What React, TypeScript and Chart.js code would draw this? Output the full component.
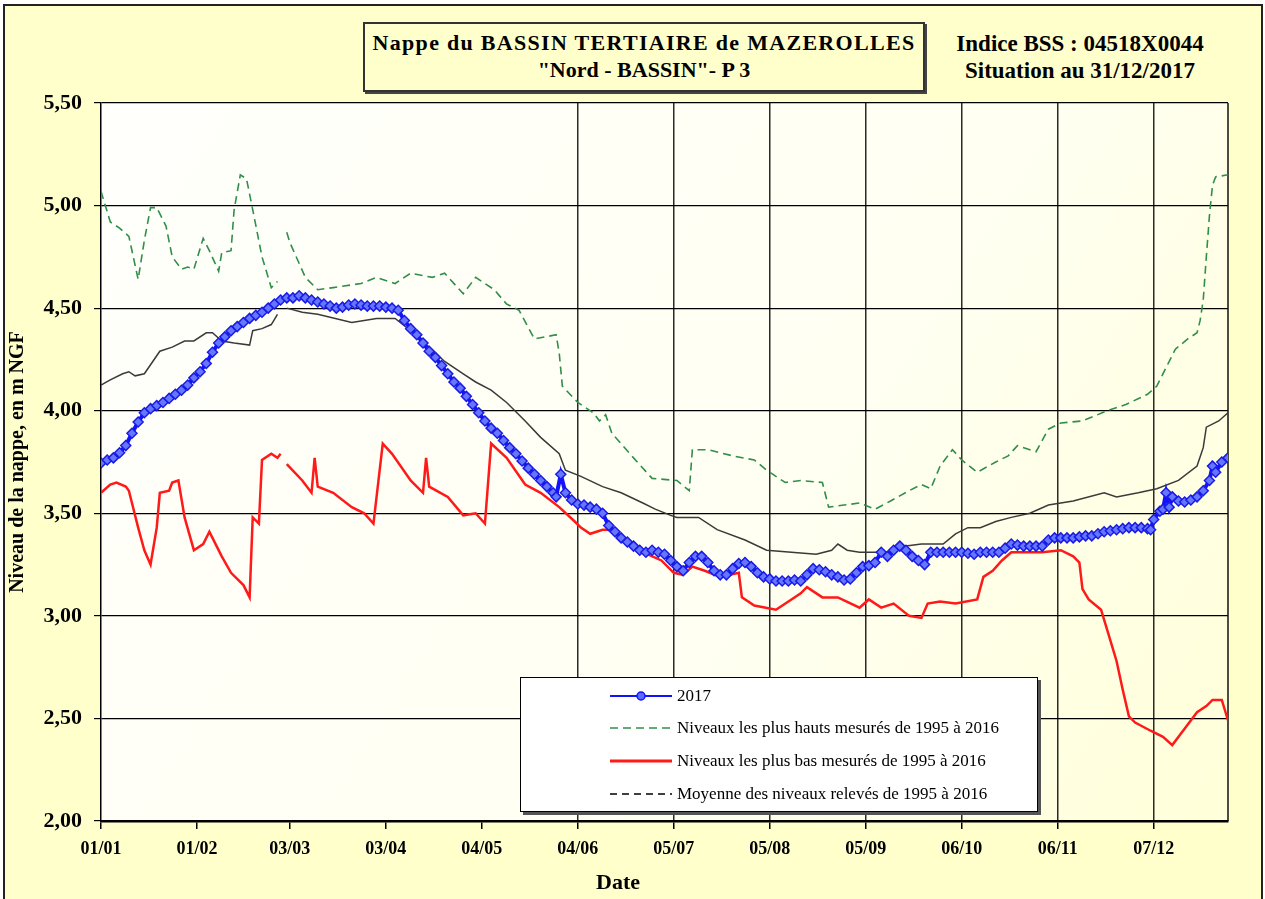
import React, { useEffect, useRef } from "react";
import { Chart, registerables } from "chart.js";
Chart.register(...registerables);

// x tick positions (day of year, 0 = 01/01) and their labels
const tickDays = [0, 31, 61, 92, 123, 154, 185, 216, 247, 278, 309, 340];
const tickLabels = ["01/01", "01/02", "03/03", "03/04", "04/05", "04/06", "05/07", "05/08", "05/09", "06/10", "06/11", "07/12"];

// 2017 levels
const days2017 = [0, 2, 4, 6, 8, 10, 12, 14, 16, 18, 20, 22, 24, 26, 28, 30, 32, 34, 36, 38, 40, 42, 44, 46, 48, 50, 52, 54, 56, 58, 60, 62, 64, 66, 68, 70, 72, 74, 76, 78, 80, 82, 84, 86, 88, 90, 92, 94, 96, 98, 100, 102, 104, 106, 108, 110, 112, 114, 116, 118, 120, 122, 124, 126, 128, 130, 132, 134, 136, 138, 140, 142, 144, 146, 147, 148.5, 150, 152, 154, 156, 158, 160, 162, 164, 166, 168, 170, 172, 174, 176, 178, 180, 182, 184, 186, 188, 190, 192, 194, 196, 198, 200, 202, 204, 206, 208, 210, 212, 214, 216, 218, 220, 222, 224, 226, 228, 230, 232, 234, 236, 238, 240, 242, 244, 246, 248, 250, 252, 254, 256, 258, 260, 262, 264, 266, 268, 270, 272, 274, 276, 278, 280, 282, 284, 286, 288, 290, 292, 294, 296, 298, 300, 302, 304, 306, 308, 310, 312, 314, 316, 318, 320, 322, 324, 326, 328, 330, 332, 334, 336, 338, 339, 340, 342, 343, 344, 345, 346, 348, 350, 352, 354, 356, 358, 359, 360, 362, 364];
const values2017 = [3.745, 3.76, 3.77, 3.795, 3.83, 3.89, 3.945, 3.99, 4.01, 4.025, 4.04, 4.06, 4.08, 4.1, 4.125, 4.16, 4.19, 4.23, 4.285, 4.33, 4.36, 4.39, 4.41, 4.43, 4.45, 4.465, 4.48, 4.5, 4.52, 4.54, 4.55, 4.55, 4.56, 4.55, 4.54, 4.53, 4.52, 4.51, 4.5, 4.505, 4.515, 4.52, 4.515, 4.51, 4.51, 4.51, 4.505, 4.5, 4.49, 4.44, 4.4, 4.37, 4.33, 4.29, 4.26, 4.22, 4.18, 4.14, 4.11, 4.07, 4.03, 3.99, 3.95, 3.915, 3.89, 3.855, 3.82, 3.79, 3.755, 3.72, 3.69, 3.66, 3.63, 3.6, 3.58, 3.69, 3.6, 3.565, 3.545, 3.54, 3.53, 3.52, 3.5, 3.44, 3.41, 3.38, 3.36, 3.34, 3.32, 3.31, 3.32, 3.31, 3.3, 3.27, 3.24, 3.22, 3.26, 3.29, 3.29, 3.26, 3.22, 3.2, 3.2, 3.23, 3.255, 3.26, 3.24, 3.21, 3.19, 3.18, 3.17, 3.17, 3.17, 3.175, 3.17, 3.2, 3.23, 3.225, 3.215, 3.2, 3.19, 3.175, 3.18, 3.21, 3.24, 3.245, 3.26, 3.31, 3.29, 3.32, 3.34, 3.32, 3.29, 3.27, 3.25, 3.31, 3.31, 3.31, 3.31, 3.31, 3.31, 3.305, 3.3, 3.31, 3.31, 3.31, 3.31, 3.33, 3.35, 3.345, 3.34, 3.34, 3.34, 3.34, 3.37, 3.38, 3.38, 3.38, 3.38, 3.385, 3.39, 3.39, 3.4, 3.41, 3.415, 3.42, 3.425, 3.43, 3.43, 3.43, 3.425, 3.42, 3.47, 3.51, 3.52, 3.6, 3.53, 3.58, 3.56, 3.555, 3.565, 3.58, 3.61, 3.66, 3.73, 3.7, 3.75, 3.77];

// highest levels 1995-2016
const daysHigh = [0, 3, 6, 9, 12, 14, 16, 18, 21, 23, 26, 28, 30, 33, 35, 38, 39, 42, 43, 45, 47, 49, 52, 55, 57, 58.5, 60, 61, 66, 70, 75, 84, 89, 95, 100, 107, 111, 117, 121, 127, 131, 135, 140, 147, 148, 149, 154, 159, 161, 163, 165, 172, 178, 186, 190, 191, 196, 204, 211, 215, 221, 226, 233, 235, 240, 245, 250, 255, 261, 265, 268, 271, 275, 278, 283, 289, 293, 296, 302, 306, 310, 317, 325, 331, 338, 341, 344, 347, 351, 354, 355, 356, 357, 358, 359, 360, 364];
const valuesHigh = [5.07, 4.92, 4.89, 4.85, 4.64, 4.83, 4.99, 4.99, 4.9, 4.75, 4.69, 4.7, 4.69, 4.84, 4.78, 4.68, 4.77, 4.78, 4.98, 5.15, 5.13, 4.98, 4.75, 4.6, 4.63, null, 4.87, 4.82, 4.65, 4.59, 4.6, 4.62, 4.65, 4.62, 4.67, 4.65, 4.67, 4.57, 4.65, 4.59, 4.52, 4.49, 4.35, 4.37, 4.28, 4.12, 4.04, 3.99, 3.95, 3.98, 3.89, 3.77, 3.67, 3.66, 3.61, 3.81, 3.81, 3.78, 3.76, 3.71, 3.65, 3.66, 3.65, 3.53, 3.54, 3.55, 3.52, 3.56, 3.61, 3.64, 3.62, 3.73, 3.81, 3.76, 3.7, 3.75, 3.78, 3.83, 3.8, 3.91, 3.94, 3.95, 4.0, 4.03, 4.08, 4.12, 4.21, 4.3, 4.35, 4.38, 4.44, 4.54, 4.75, 4.95, 5.1, 5.14, 5.15];

// lowest levels 1995-2016
const daysLow = [0, 3, 5, 8, 9, 12, 14, 16, 18, 19, 22, 23, 25, 27, 30, 33, 35, 36, 39, 42, 46, 48, 49, 51, 52, 55, 57, 58, 58.5, 60, 65, 68, 69, 70, 75, 81, 85, 88, 91, 94, 100, 104, 105, 106, 112, 117, 121, 124, 126, 131, 137, 142, 148, 153, 155, 158, 162, 164, 169, 175, 181, 185, 188, 191, 195, 200, 206, 207, 211, 218, 223, 226, 228, 233, 238, 245, 248, 252, 256, 261, 265, 267, 271, 276, 283, 285, 288, 291, 294, 297, 304, 310, 314, 316, 317, 319, 323, 325, 328, 330, 332, 334, 339, 343, 346, 349, 354, 357, 359, 362, 364];
const valuesLow = [3.6, 3.64, 3.65, 3.63, 3.61, 3.43, 3.32, 3.25, 3.43, 3.6, 3.61, 3.65, 3.66, 3.48, 3.32, 3.35, 3.41, 3.38, 3.29, 3.21, 3.15, 3.09, 3.48, 3.45, 3.76, 3.79, 3.77, 3.79, null, 3.74, 3.66, 3.6, 3.77, 3.63, 3.6, 3.53, 3.5, 3.45, 3.84, 3.79, 3.66, 3.6, 3.77, 3.63, 3.58, 3.49, 3.5, 3.45, 3.84, 3.77, 3.64, 3.6, 3.53, 3.46, 3.43, 3.4, 3.42, 3.42, 3.37, 3.31, 3.27, 3.21, 3.2, 3.24, 3.22, 3.19, 3.21, 3.09, 3.05, 3.03, 3.08, 3.11, 3.14, 3.09, 3.09, 3.04, 3.08, 3.04, 3.06, 3.0, 2.99, 3.06, 3.07, 3.06, 3.08, 3.19, 3.22, 3.27, 3.31, 3.31, 3.31, 3.32, 3.29, 3.26, 3.13, 3.08, 3.03, 2.93, 2.78, 2.64, 2.51, 2.48, 2.44, 2.41, 2.37, 2.43, 2.53, 2.56, 2.59, 2.59, 2.49];

// mean levels 1995-2016
const daysMean = [0, 3, 7, 9, 11, 14, 19, 23, 27, 30, 34, 36, 39, 43, 48, 49, 52, 55, 57, 58.5, 60, 65, 70, 81, 89, 95, 100, 106, 111, 117, 121, 126, 131, 137, 142, 148, 150, 155, 162, 168, 175, 179, 184, 186, 193, 199, 208, 215, 223, 231, 236, 238, 241, 245, 254, 260, 265, 272, 276, 280, 284, 289, 294, 300, 306, 314, 324, 328, 335, 341, 348, 354, 356, 357, 361, 364];
const valuesMean = [4.125, 4.15, 4.18, 4.19, 4.17, 4.18, 4.29, 4.31, 4.34, 4.34, 4.38, 4.38, 4.34, 4.33, 4.32, 4.39, 4.4, 4.42, 4.47, null, 4.5, 4.48, 4.47, 4.43, 4.45, 4.45, 4.39, 4.31, 4.24, 4.18, 4.14, 4.1, 4.04, 3.95, 3.87, 3.79, 3.71, 3.68, 3.63, 3.6, 3.55, 3.52, 3.49, 3.48, 3.48, 3.42, 3.37, 3.32, 3.31, 3.3, 3.32, 3.35, 3.32, 3.31, 3.31, 3.34, 3.35, 3.35, 3.4, 3.43, 3.43, 3.46, 3.48, 3.5, 3.54, 3.56, 3.6, 3.58, 3.6, 3.62, 3.66, 3.73, 3.82, 3.92, 3.95, 3.99];

const legendLabels = [
  "2017",
  "Niveaux les plus hauts mesurés de 1995 à 2016",
  "Niveaux les plus bas mesurés de 1995 à 2016",
  "Moyenne des niveaux relevés de 1995 à 2016",
];

const SERIF = '"Liberation Serif", "Times New Roman", serif';
const BLUE = "#1212ff";
const GREEN = "#2f8f4a";
const RED = "#ff1a1a";
const GREY = "#3a3a3a";

const toPoints = (xs: number[], ys: (number | null)[]) => xs.map((x, i) => ({ x, y: ys[i] }));

const plotBg = {
  id: "plotBg",
  beforeDraw(chart: any) {
    const { ctx, chartArea: a } = chart;
    const g = ctx.createLinearGradient(a.left, a.top, a.right, a.bottom);
    g.addColorStop(0, "#fffffc");
    g.addColorStop(0.6, "#fffff2");
    g.addColorStop(1, "#ffffd9");
    ctx.save();
    ctx.fillStyle = g;
    ctx.fillRect(a.left, a.top, a.right - a.left, a.bottom - a.top);
    ctx.restore();
  },
  beforeDatasetsDraw(chart: any) {
    const { ctx, chartArea: a } = chart;
    ctx.save();
    ctx.strokeStyle = "#111";
    ctx.lineWidth = 1.5;
    ctx.beginPath();
    ctx.moveTo(a.right, a.top);
    ctx.lineTo(a.right, a.bottom);
    ctx.stroke();
    ctx.restore();
  },
};

function App() {
  const ref = useRef<HTMLCanvasElement | null>(null);

  useEffect(() => {
    document.body.style.margin = "0";
    document.body.style.background = "#ffffff";
    if (!ref.current) return;
    const chart = new Chart(ref.current, {
      type: "line",
      data: {
        datasets: [
          {
            label: legendLabels[0],
            data: toPoints(days2017, values2017),
            borderColor: BLUE,
            backgroundColor: "#5a6cff",
            borderWidth: 4,
            pointStyle: "rectRot",
            pointRadius: 5,
            pointBorderWidth: 1.5,
            pointBorderColor: "#1a1ae6",
            pointBackgroundColor: "#6677ff",
            tension: 0,
          },
          {
            label: legendLabels[2],
            data: toPoints(daysLow, valuesLow),
            borderColor: RED,
            borderWidth: 2.5,
            pointRadius: 0,
            tension: 0,
            spanGaps: false,
          },
          {
            label: legendLabels[3],
            data: toPoints(daysMean, valuesMean),
            borderColor: GREY,
            borderWidth: 1.5,
            pointRadius: 0,
            tension: 0,
            spanGaps: false,
          },
          {
            label: legendLabels[1],
            data: toPoints(daysHigh, valuesHigh),
            borderColor: GREEN,
            borderWidth: 1.6,
            borderDash: [8, 5],
            pointRadius: 0,
            tension: 0,
            spanGaps: false,
          },
        ],
      },
      options: {
        responsive: false,
        maintainAspectRatio: false,
        devicePixelRatio: 1,
        animation: false,
        layout: { padding: { top: 103, right: 37, left: 0, bottom: 0 } },
        plugins: { legend: { display: false }, tooltip: { enabled: false }, title: { display: false } },
        scales: {
          x: {
            type: "linear",
            min: 0,
            max: 364,
            afterFit: (s: any) => { s.height = 78; },
            afterBuildTicks: (s: any) => { s.ticks = tickDays.map((v) => ({ value: v })); },
            ticks: {
              autoSkip: false,
              maxRotation: 0,
              padding: 10,
              color: "#000",
              font: { family: SERIF, size: 18, weight: "bold" },
              callback: (_v: any, i: number) => tickLabels[i],
            },
            grid: {
              color: (c: any) => (c.index >= 5 ? "#2a2a2a" : "rgba(0,0,0,0)"),
              lineWidth: 1.5,
              tickColor: "#000",
              tickLength: 8,
            },
            border: { color: "#000", width: 2.5 },
            title: { display: false },
          },
          y: {
            min: 2,
            max: 5.5,
            afterFit: (s: any) => { s.width = 101; },
            ticks: {
              stepSize: 0.5,
              padding: 12,
              color: "#000",
              font: { family: SERIF, size: 22, weight: "bold" },
              callback: (v: any) => Number(v).toFixed(2).replace(".", ","),
            },
            grid: { color: "#000", lineWidth: 1.2, tickColor: "#000", tickLength: 7 },
            border: { color: "#000", width: 1.5 },
            title: {
              display: true,
              text: "Niveau de la nappe, en m NGF",
              color: "#000",
              font: { family: SERIF, size: 20, weight: "bold" },
              padding: { top: 6, bottom: 0 },
            },
          },
        },
      },
      plugins: [plotBg],
    });
    return () => chart.destroy();
  }, []);

  const sample = (i: number) => {
    if (i === 0)
      return (
        <svg width="62" height="12">
          <line x1="0" y1="6" x2="62" y2="6" stroke={BLUE} strokeWidth="2" />
          <circle cx="31" cy="6" r="4" fill="#5a6cff" stroke={BLUE} strokeWidth="1.5" />
        </svg>
      );
    if (i === 1)
      return (
        <svg width="62" height="12">
          <line x1="0" y1="6" x2="62" y2="6" stroke={GREEN} strokeWidth="1.6" strokeDasharray="8 5" />
        </svg>
      );
    if (i === 2)
      return (
        <svg width="62" height="12">
          <line x1="0" y1="6" x2="62" y2="6" stroke={RED} strokeWidth="3" />
        </svg>
      );
    return (
      <svg width="62" height="12">
        <line x1="0" y1="6" x2="62" y2="6" stroke="#000" strokeWidth="1.6" strokeDasharray="7 5" />
      </svg>
    );
  };

  const rowTops = [18, 50, 83, 116];

  return (
    <div style={{ position: "relative", width: 1265, height: 899, overflow: "hidden", background: "#fff" }}>
      <div
        style={{
          position: "absolute",
          left: 3,
          top: 4,
          width: 1256,
          height: 920,
          border: "2px solid #222",
          background: "#ffffcc",
        }}
      />
      <div
        style={{
          position: "absolute",
          left: 363,
          top: 22,
          width: 558,
          height: 61,
          border: "2px solid #333",
          boxShadow: "2px 2px 0 #444",
          background: "#ffffcc",
          fontFamily: SERIF,
          fontWeight: "bold",
          fontSize: 22,
          textAlign: "center",
          lineHeight: "27px",
          paddingTop: 5,
          boxSizing: "content-box",
          color: "#000",
        }}
      >
        <div style={{ letterSpacing: 1.3, whiteSpace: "nowrap" }}>Nappe du BASSIN TERTIAIRE de MAZEROLLES</div>
        <div>"Nord - BASSIN"- P 3</div>
      </div>
      <div
        style={{
          position: "absolute",
          left: 930,
          top: 30,
          width: 300,
          fontFamily: SERIF,
          fontWeight: "bold",
          fontSize: 23,
          textAlign: "center",
          lineHeight: "27px",
          color: "#000",
          whiteSpace: "nowrap",
        }}
      >
        <div>Indice BSS : 04518X0044</div>
        <div>Situation au 31/12/2017</div>
      </div>
      <canvas ref={ref} width={1265} height={899} style={{ position: "absolute", left: 0, top: 0 }} />
      <div
        style={{
          position: "absolute",
          left: 568,
          top: 869,
          width: 100,
          textAlign: "center",
          fontFamily: SERIF,
          fontWeight: "bold",
          fontSize: 22,
          lineHeight: "26px",
          color: "#000",
        }}
      >
        Date
      </div>
      <div
        style={{
          position: "absolute",
          left: 520,
          top: 677,
          width: 516,
          height: 133,
          background: "#fff",
          border: "1.5px solid #000",
          boxShadow: "3px 3px 0 #555",
          fontFamily: SERIF,
          fontSize: 17,
          color: "#000",
        }}
      >
        {legendLabels.map((t, i) => (
          <div key={i} style={{ position: "absolute", left: 89, top: rowTops[i] - 10, height: 20, display: "flex", alignItems: "center", whiteSpace: "nowrap" }}>
            {sample(i)}
            <span style={{ marginLeft: 5 }}>{t}</span>
          </div>
        ))}
      </div>
    </div>
  );
}

export default App;
